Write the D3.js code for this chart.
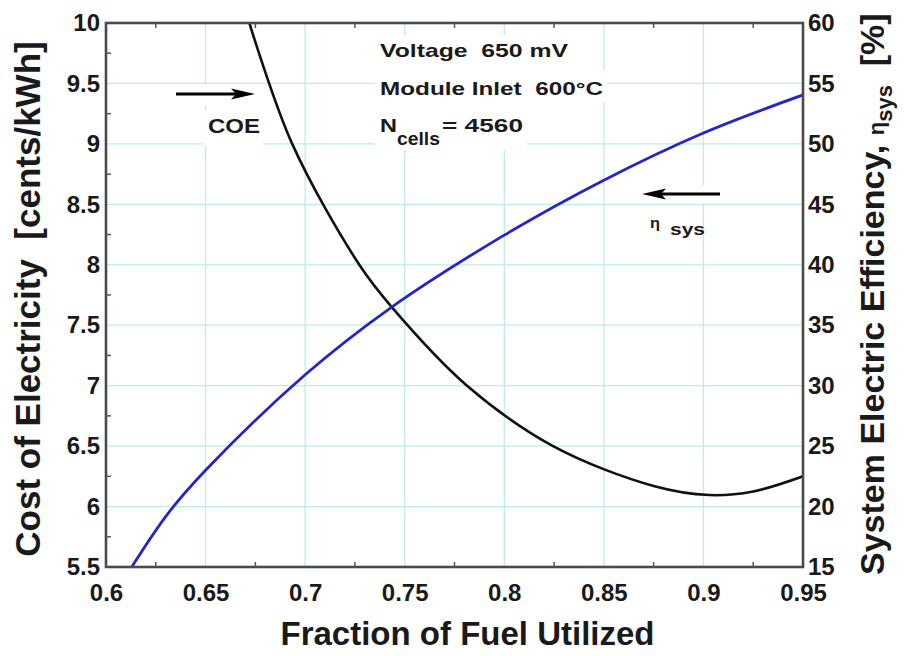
<!DOCTYPE html>
<html>
<head>
<meta charset="utf-8">
<script src="https://cdn.jsdelivr.net/npm/d3@7"></script>
<style>
  body { margin: 0; background: #fff; }
  svg text { font-family: "Liberation Sans", Arial, Helvetica, sans-serif; font-weight: bold; fill: #1a1a1a; }
</style>
</head>
<body>
<svg id="chart" width="904" height="656"></svg>
<script>
// fuel utilization vs. cost of electricity (left axis, cents/kWh)
const coeFuel = [0.672, 0.6935, 0.7272, 0.7435, 0.7813, 0.8245, 0.875, 0.903, 0.925, 0.950];
const coeCost = [10.0, 9.0, 8.0, 7.65, 7.0, 6.5, 6.17, 6.095, 6.125, 6.25];

// fuel utilization vs. system electric efficiency (right axis, %)
const effFuel = [0.6129, 0.631, 0.650, 0.700, 0.7426, 0.800, 0.850, 0.900, 0.950];
const effValue = [15, 19.4, 23.0, 30.9, 36.4, 42.45, 47.0, 50.9, 54.05];

const xTicks = [0.6, 0.65, 0.7, 0.75, 0.8, 0.85, 0.9, 0.95];
const xMinor = [0.625, 0.675, 0.725, 0.775, 0.825, 0.875, 0.925];
const leftTicks = [5.5, 6, 6.5, 7, 7.5, 8, 8.5, 9, 9.5, 10];
const leftMinor = [5.75, 6.25, 6.75, 7.25, 7.75, 8.25, 8.75, 9.25, 9.75];
const rightTicks = [15, 20, 25, 30, 35, 40, 45, 50, 55, 60];

const svg = d3.select('#chart');
const plot = { left: 106, right: 803, top: 23, bottom: 567 };

let x = d3.scaleLinear().domain([0.6, 0.95]).range([plot.left, plot.right]);
let yL = d3.scaleLinear().domain([5.5, 10]).range([plot.bottom, plot.top]);
let yR = d3.scaleLinear().domain([15, 60]).range([plot.bottom, plot.top]);

svg.append('defs').append('clipPath').attr('id', 'clip')
    .append('rect')
    .attr('x', plot.left).attr('y', plot.top)
    .attr('width', plot.right - plot.left)
    .attr('height', plot.bottom - plot.top);

// grid
let grid = svg.append('g').attr('stroke', '#bdeee6').attr('stroke-width', 1.3);
grid.selectAll('.vg')
    .data(xTicks.slice(1, -1))
    .join('line')
    .attr('x1', d => x(d)).attr('x2', d => x(d))
    .attr('y1', plot.top).attr('y2', plot.bottom);
grid.selectAll('.hg')
    .data(leftTicks.slice(1, -1))
    .join('line')
    .attr('x1', plot.left).attr('x2', plot.right)
    .attr('y1', d => yL(d)).attr('y2', d => yL(d));

// white boxes behind the annotations (x0, x1, y0, y1 in pixels)
let boxes = [
  [176, 258, 85, 105],
  [203, 263, 110, 146],
  [635, 732, 185, 203],
  [645, 700, 212, 242],
  [375, 572, 35, 70],
  [375, 607, 70, 102],
  [375, 527, 102, 150]
];
svg.append('g').selectAll('rect')
    .data(boxes)
    .join('rect')
    .attr('fill', '#fff')
    .attr('x', d => d[0]).attr('width', d => d[1] - d[0])
    .attr('y', d => d[2]).attr('height', d => d[3] - d[2]);

// curves
let curves = svg.append('g').attr('clip-path', 'url(#clip)').attr('fill', 'none');

curves.append('path')
    .datum(d3.zip(coeFuel, coeCost))
    .attr('stroke', '#111')
    .attr('stroke-width', 2.6)
    .attr('d', d3.line().x(d => x(d[0])).y(d => yL(d[1])).curve(d3.curveCatmullRom.alpha(0.5)));

curves.append('path')
    .datum(d3.zip(effFuel, effValue))
    .attr('stroke', '#2424cc')
    .attr('stroke-width', 2.8)
    .attr('d', d3.line().x(d => x(d[0])).y(d => yR(d[1])).curve(d3.curveCatmullRom.alpha(0.5)));

// frame and minor ticks
svg.append('rect')
    .attr('x', plot.left).attr('y', plot.top)
    .attr('width', plot.right - plot.left)
    .attr('height', plot.bottom - plot.top)
    .attr('fill', 'none')
    .attr('stroke', '#4a4a4a')
    .attr('stroke-width', 2.6);

let ticks = svg.append('g').attr('stroke', '#555').attr('stroke-width', 1.5);
for (let v of xMinor)
{
  ticks.append('line').attr('x1', x(v)).attr('x2', x(v)).attr('y1', plot.bottom).attr('y2', plot.bottom - 5);
  ticks.append('line').attr('x1', x(v)).attr('x2', x(v)).attr('y1', plot.top).attr('y2', plot.top + 5);
}
for (let v of leftMinor)
  ticks.append('line').attr('x1', plot.left).attr('x2', plot.left + 5).attr('y1', yL(v)).attr('y2', yL(v));

// tick labels via d3 axes
let styleAxis = g => {
  g.select('.domain').remove();
  g.selectAll('text')
      .style('font-size', '24px')
      .style('font-family', '"Liberation Sans", Arial, sans-serif')
      .style('font-weight', 'bold')
      .attr('fill', '#1a1a1a');
};

svg.append('g')
    .attr('transform', `translate(0,${plot.bottom})`)
    .call(d3.axisBottom(x).tickValues(xTicks).tickSize(0).tickPadding(17).tickFormat(d => String(d)))
    .call(styleAxis);

svg.append('g')
    .attr('transform', `translate(${plot.left},0)`)
    .call(d3.axisLeft(yL).tickValues(leftTicks).tickSize(0).tickPadding(6).tickFormat(d => String(d)))
    .call(styleAxis);

svg.append('g')
    .attr('transform', `translate(${plot.right},0)`)
    .call(d3.axisRight(yR).tickValues(rightTicks).tickSize(0).tickPadding(5).tickFormat(d => String(d)))
    .call(styleAxis);

// axis titles
svg.append('text')
    .attr('x', 467.5)
    .attr('y', 645)
    .attr('text-anchor', 'middle')
    .style('font-size', '33px')
    .text('Fraction of Fuel Utilized');

svg.append('text')
    .attr('transform', 'translate(40,299) rotate(-90)')
    .attr('text-anchor', 'middle')
    .style('font-size', '35px')
    .style('white-space', 'pre')
    .text('Cost of Electricity  [cents/kWh]');

let rightTitle = svg.append('text')
    .attr('transform', 'translate(884,575) rotate(-90)')
    .style('font-size', '34px')
    .style('white-space', 'pre');
rightTitle.append('tspan').text('System Electric Efficiency, ');
rightTitle.append('tspan').style('font-size', '22px').text('η');
rightTitle.append('tspan').style('font-size', '22px').attr('dy', 8).text('sys');
rightTitle.append('tspan').attr('dy', -8).text('  [%]');

// annotations (pixel positions)
let note = (px, py, txt, size, len) =>
  svg.append('text')
      .attr('x', px).attr('y', py)
      .style('font-size', size + 'px')
      .style('white-space', 'pre')
      .attr('textLength', len)
      .attr('lengthAdjust', 'spacingAndGlyphs')
      .text(txt);

note(380, 57, 'Voltage  650 mV', 19, 188);
note(380, 95, 'Module Inlet  600°C', 19, 223);
note(380, 132, 'N', 19, 17);
note(397, 145, 'cells', 19, 43);
note(442, 132, '= 4560', 19, 81);
note(208, 133, 'COE', 20, 52);
note(650, 228, 'η', 15, 10);
note(670, 235, 'sys', 17, 35);

// arrows
let arrow = (x0, x1, yPix) => {
  let dir = Math.sign(x1 - x0);
  svg.append('line')
      .attr('x1', x0).attr('x2', x1 - dir * 18)
      .attr('y1', yPix).attr('y2', yPix)
      .attr('stroke', '#000').attr('stroke-width', 2.8);
  svg.append('path')
      .attr('d', `M${x1},${yPix} L${x1 - dir * 24},${yPix - 5.5} L${x1 - dir * 19},${yPix} L${x1 - dir * 24},${yPix + 5.5} Z`)
      .attr('fill', '#000');
};
arrow(176, 255, 94);
arrow(720, 642, 194);
</script>
</body>
</html>
